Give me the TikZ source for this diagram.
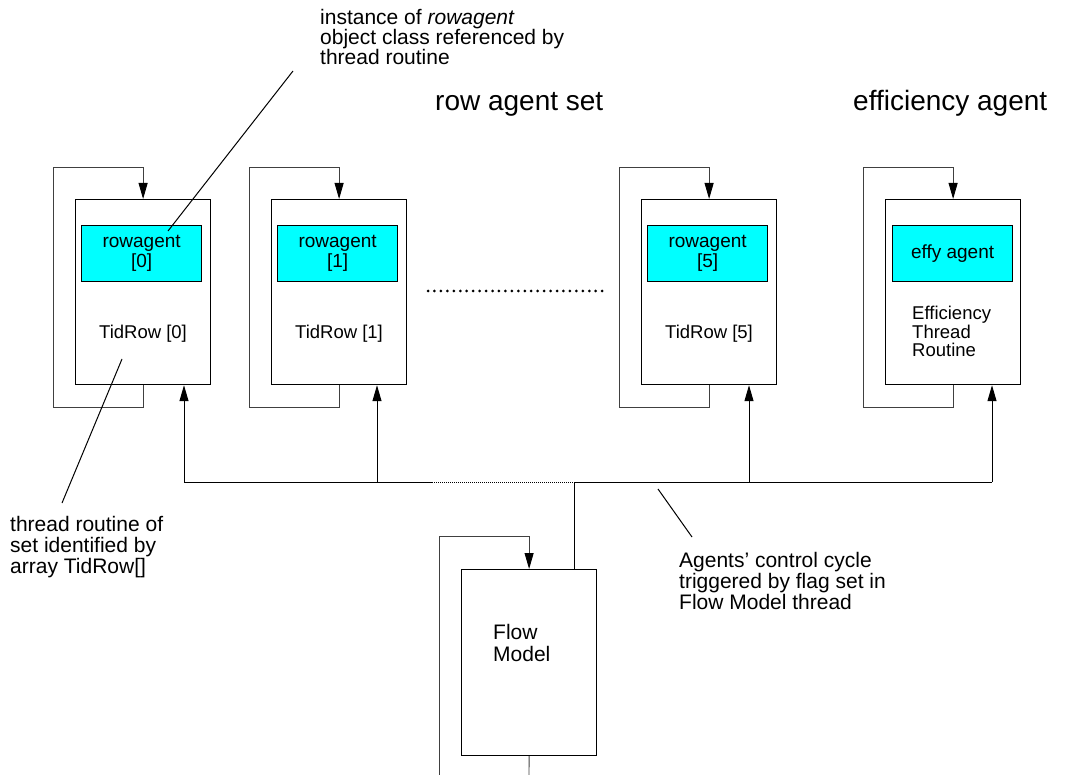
\documentclass[tikz,border=0pt]{standalone}
\usepackage{fontspec}
\setmainfont{Liberation Sans}
\usetikzlibrary{arrows.meta}
\definecolor{agentcyan}{RGB}{0,255,255}

\begin{document}
\begin{tikzpicture}[x=1pt,y=-1pt,
  thread/.style={draw=black, line width=1.2pt, fill=white, minimum width=135pt,
    minimum height=185pt, inner sep=0pt, anchor=north west},
  agentbox/.style={draw=black, line width=1.2pt, fill=agentcyan, minimum width=120pt,
    minimum height=56pt, inner sep=0pt, anchor=north west, align=center,
    font=\fontsize{19}{20}\selectfont},
  boxtext/.style={inner sep=0pt, font=\fontsize{18.5}{18}\selectfont},
  note/.style={inner sep=0pt, anchor=base west, align=left,
    font=\fontsize{21}{20}\selectfont},
  title/.style={inner sep=0pt, anchor=base west, font=\fontsize{28}{30}\selectfont},
  tip/.style={-{Triangle[length=16pt,width=9pt,color=black]}},
  loopline/.style={line width=0.9pt, draw=black!75},
  wire/.style={line width=1pt, draw=black},
  leader/.style={line width=1pt, draw=black}]

\useasboundingbox (0,0) rectangle (1081,775);

% section titles
\node[title] (tset) at (435,111) {row agent set};
\node[title] (teff) at (853,111) {efficiency agent};

% thread boxes with their agent objects
\node[thread] (b0) at (75,199) {};
\node[thread] (b1) at (271,199) {};
\node[thread] (b5) at (641,199) {};
\node[thread] (be) at (885,199) {};

\node[agentbox] (a0) at (81,225) {rowagent\\{}[0]};
\node[agentbox] (a1) at (277,225) {rowagent\\{}[1]};
\node[agentbox] (a5) at (647,225) {rowagent\\{}[5]};
\node[agentbox] (ae) at (892,225) {effy agent};

\node[boxtext] (r0) at (143,334) {TidRow [0]};
\node[boxtext] (r1) at (339,334) {TidRow [1]};
\node[boxtext] (r5) at (709,334) {TidRow [5]};
% multi-line nodes: the base anchor sits on the last line
\node[boxtext, anchor=base west, align=left] (re) at (912,356)
  {Efficiency\\Thread\\Routine};

% flow model thread
\node[thread, minimum height=186pt] (flow) at (461,569) {};
\node[inner sep=0pt, anchor=base west, align=left,
  font=\fontsize{21}{22}\selectfont] (fmtext) at (493,661) {Flow\\Model};

% ellipsis between row agents
\coordinate (dotsL) at (428,291);
\coordinate (dotsR) at (608,291);
\draw[line width=3pt, line cap=round, dash pattern=on 0pt off 6.45pt] (dotsL) -- (dotsR);

% self loops of the thread routines
\foreach \b in {b0,b1,b5,be}{
  \draw[loopline, tip] (\b.south) -- ++(0,22)
    -| ([xshift=-22pt,yshift=32pt]\b.north west) -| (\b.north);
}

% trigger bus
\coordinate (u0) at (184,482);
\coordinate (u1) at (377,482);
\coordinate (u5) at (749,482);
\coordinate (ue) at (992,482);
\coordinate (busdot) at (432,482);
\coordinate (busfm) at (574,482);

\draw[wire] (u0) -- (busdot);
\draw[wire, dash pattern=on 1pt off 1pt] (busdot) -- (busfm);
\draw[wire] (busfm) -- (ue);
\draw[wire] (flow.north -| busfm) -- (busfm);

\draw[wire, tip] (u0) -- (u0 |- b0.south);
\draw[wire, tip] (u1) -- (u1 |- b1.south);
\draw[wire, tip] (u5) -- (u5 |- b5.south);
\draw[wire, tip] (ue) -- (ue |- be.south);

% flow model loop
\coordinate (fmout) at (529,775);
\coordinate (fmin) at (439,775);
\draw[loopline] (flow.south) -- (fmout);
\draw[loopline, tip] (fmin) |- ([yshift=33pt]flow.north) -- (flow.north);

% annotations
\node[note] (n1) at (320,65)
  {instance of \textit{rowagent}\\object class referenced by\\thread routine};
\coordinate (n1a) at (293,71);
\coordinate (n1b) at (168,231);
\draw[leader] (n1a) -- (n1b);

\node[note, font=\fontsize{21}{21}\selectfont] (n2) at (10,573)
  {thread routine of\\set identified by\\array TidRow[]};
\coordinate (n2a) at (122,359);
\coordinate (n2b) at (62,503);
\draw[leader] (n2a) -- (n2b);

\node[note, font=\fontsize{21}{21}\selectfont] (n3) at (679,609)
  {Agents’ control cycle\\triggered by flag set in\\Flow Model thread};
\coordinate (n3a) at (658,489);
\coordinate (n3b) at (692,537);
\draw[leader] (n3a) -- (n3b);

\end{tikzpicture}
\end{document}
